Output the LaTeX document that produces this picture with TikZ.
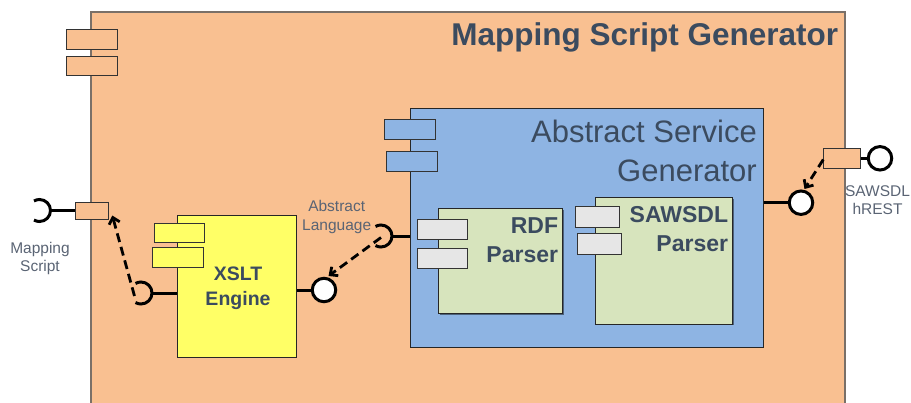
\documentclass[tikz,border=0pt]{standalone}
\usepackage{fontspec}
\setmainfont{Liberation Sans}
\usetikzlibrary{arrows.meta,shadows}

\definecolor{msgfill}{HTML}{F9C091}
\definecolor{asgfill}{HTML}{8EB4E3}
\definecolor{parserfill}{HTML}{D7E4BD}
\definecolor{xsltfill}{HTML}{FFFF66}
\definecolor{portgray}{HTML}{E6E6E6}
\definecolor{titleink}{HTML}{3B4B5F}
\definecolor{labelink}{HTML}{5A6474}
\definecolor{outerline}{HTML}{7A7068}

\begin{document}
\begin{tikzpicture}[x=1pt,y=-1pt,
  box/.style={rectangle, draw=black!85, line width=1pt, inner sep=0pt,
    drop shadow={shadow xshift=1.2pt, shadow yshift=-1.2pt, opacity=0.45, fill=black}},
  pin/.style={rectangle, draw=black!80, line width=1pt, inner sep=0pt},
  wire/.style={line width=3pt},
  ball/.style={circle, draw=black, line width=3pt, fill=white, inner sep=0pt, minimum size=23.5pt},
  depend/.style={line width=2.8pt, dash pattern=on 9pt off 5pt,
    -{Straight Barb[length=6pt,width=11pt]}},
  lbl/.style={text=labelink, font=\fontsize{15.5}{18.3}\selectfont, align=center, inner sep=0pt, anchor=north},
  bigtitle/.style={text=titleink, inner sep=0pt},
  comptitle/.style={text=titleink, inner sep=0pt, font=\bfseries\fontsize{23}{28.7}\selectfont, align=right, anchor=north east}
]
\useasboundingbox (0,0) rectangle (911,402);
\clip (0,0) rectangle (911,402);

% ---------------- outer component: Mapping Script Generator ----------------
\node[rectangle, draw=outerline, line width=2pt, fill=msgfill, inner sep=0pt,
      minimum width=754.5pt, minimum height=418pt] (msg) at (467.75,221) {};
\node[pin, fill=msgfill, minimum width=51pt, minimum height=20pt] (msgp1) at (91.5,39) {};
\node[pin, fill=msgfill, minimum width=51pt, minimum height=19pt] (msgp2) at (91.5,65.5) {};
\node[bigtitle, anchor=base east, font=\bfseries\fontsize{31.5}{37}\selectfont] (msgtitle)
     at (838.3,45.7) {Mapping Script Generator};

% ---------------- XSLT Engine ----------------
\node[box, fill=xsltfill, minimum width=119pt, minimum height=142pt] (xslt) at (236.5,286) {};
\node[pin, fill=xsltfill, minimum width=50pt, minimum height=19pt] (xsltp1) at (179,232.5) {};
\node[pin, fill=xsltfill, minimum width=51pt, minimum height=20pt] (xsltp2) at (177.5,257) {};
\node[bigtitle, anchor=north, align=center, font=\bfseries\fontsize{19.5}{25}\selectfont] (xslttitle)
     at (238,266.3) {XSLT\\Engine};

% ---------------- Abstract Service Generator ----------------
\node[box, fill=asgfill, minimum width=353pt, minimum height=239pt] (asg) at (586.5,227.5) {};
\node[pin, fill=asgfill, minimum width=51pt, minimum height=20pt] (asgp1) at (409.8,129.3) {};
\node[pin, fill=asgfill, minimum width=51pt, minimum height=19.5pt] (asgp2) at (411.7,161.3) {};
\node[bigtitle, anchor=north east, align=right, font=\fontsize{31}{38.3}\selectfont] (asgtitle)
     at (757,120.1) {Abstract Service\\Generator};

% RDF Parser
\node[box, fill=parserfill, minimum width=124pt, minimum height=105pt] (rdf) at (500.3,260.8) {};
\node[pin, fill=portgray, minimum width=50.4pt, minimum height=20.3pt] (rdfp1) at (442.5,229.2) {};
\node[pin, fill=portgray, minimum width=50pt, minimum height=20pt] (rdfp2) at (442,258.3) {};
\node[comptitle] (rdftitle) at (558.3,217.5) {RDF\\Parser};

% SAWSDL Parser
\node[box, fill=parserfill, minimum width=136.7pt, minimum height=126.7pt] (saw) at (664.3,260.7) {};
\node[pin, fill=portgray, minimum width=43.6pt, minimum height=21.3pt] (sawp1) at (597.5,216.7) {};
\node[pin, fill=portgray, minimum width=43.7pt, minimum height=20.7pt] (sawp2) at (599.2,243.7) {};
\node[comptitle, font=\bfseries\fontsize{23}{28.5}\selectfont] (sawtitle) at (728.3,206.5) {SAWSDL\\Parser};

% ---------------- interfaces ----------------
% Mapping Script: port on the outer boundary with a required socket
\node[pin, fill=msgfill, minimum width=33pt, minimum height=17pt] (msport) at (91.5,210.5) {};
\coordinate (mssock) at (50.5,210.5);
\draw[wire] (msport.west) -- (mssock);
\draw[wire] (mssock) arc[start angle=0, end angle=120, radius=11pt]
            (mssock) arc[start angle=0, end angle=-120, radius=11pt];
\node[lbl] (mslabel) at (40,242) {Mapping\\Script};

% XSLT Engine: required socket (left) and provided ball (right)
\coordinate (xsock) at (152,293);
\draw[wire] (xslt.west |- xsock) -- (xsock);
\draw[wire] (xsock) arc[start angle=0, end angle=120, radius=11pt]
            (xsock) arc[start angle=0, end angle=-120, radius=11pt];
\node[ball] (xball) at (324,290) {};
\draw[wire] (xslt.east |- xball) -- (xball.west);

% Abstract Service Generator: required socket (Abstract Language)
\coordinate (asock) at (392,236);
\draw[wire] (asg.west |- asock) -- (asock);
\draw[wire] (asock) arc[start angle=0, end angle=120, radius=11pt]
            (asock) arc[start angle=0, end angle=-120, radius=11pt];
\node[lbl] (allabel) at (336.7,200.4) {Abstract\\Language};

% Abstract Service Generator: provided ball (right)
\node[ball] (aball) at (801,202.7) {};
\draw[wire] (asg.east |- aball) -- (aball.west);

% SAWSDL hREST: port on the outer boundary with a provided ball
\node[pin, fill=msgfill, minimum width=36.7pt, minimum height=20pt] (hport) at (842.3,158.3) {};
\node[ball] (hball) at (880,158.3) {};
\draw[wire] (hport.east) -- (hball.west);
\node[lbl] (hlabel) at (877.5,185.4) {SAWSDL\\hREST};

% ---------------- delegation dependencies ----------------
\coordinate (xmouth) at (134.5,296);
\coordinate (msin) at (112.3,215.5);
\draw[depend] (xmouth) -- (msin);

\coordinate (amouth) at (381,237.5);
\coordinate (xin) at (328.5,276);
\draw[depend] (amouth) -- (xin);

\coordinate (hout) at (823.3,159.5);
\coordinate (ain) at (804.5,189);
\draw[depend] (hout) -- (ain);
\end{tikzpicture}
\end{document}
